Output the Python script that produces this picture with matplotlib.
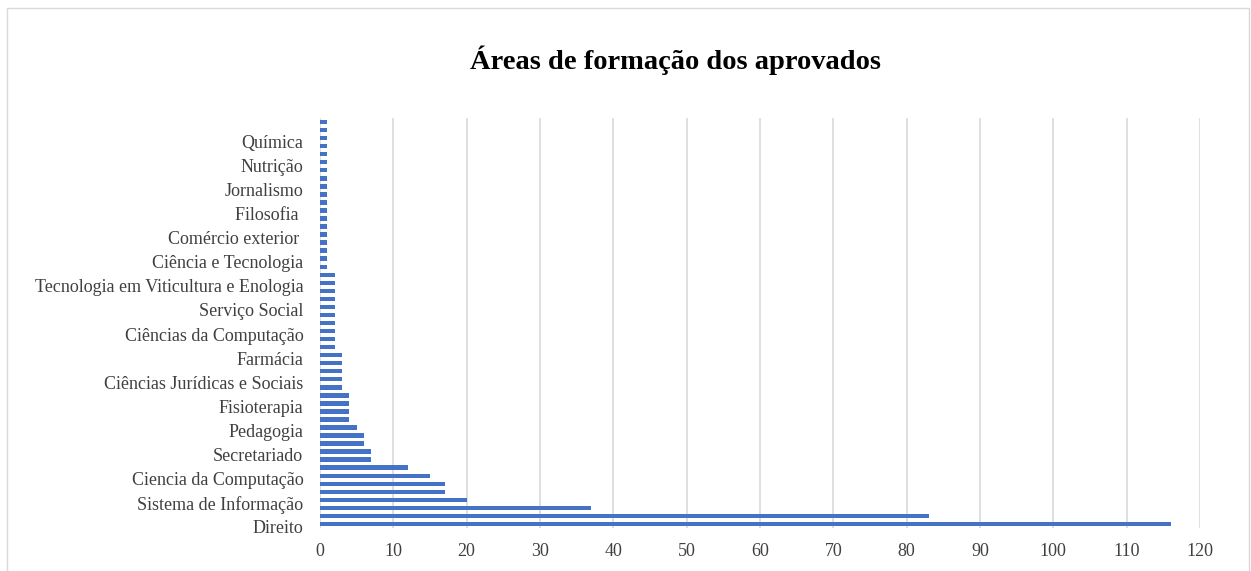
import matplotlib.pyplot as plt
import matplotlib.transforms as mtransforms
from matplotlib.patches import Rectangle

# shown labels (every third bar, from the bottom up)
labels = ['Direito', 'Sistema de Informação', 'Ciencia da Computação', 'Secretariado',
          'Pedagogia', 'Fisioterapia', 'Ciências Jurídicas e Sociais', 'Farmácia',
          'Ciências da Computação', 'Serviço Social', 'Tecnologia em Viticultura e Enologia',
          'Ciência e Tecnologia', 'Comércio exterior ', 'Filosofia ', 'Jornalismo',
          'Nutrição', 'Química']

# counts per area, bottom bar first
values = [116, 83, 37, 20, 17, 17, 15, 12, 7, 7, 6, 6, 5,
          4, 4, 4, 4,
          3, 3, 3, 3, 3,
          2, 2, 2, 2, 2, 2, 2, 2, 2, 2,
          1, 1, 1, 1, 1, 1, 1, 1, 1, 1, 1, 1, 1, 1, 1, 1, 1, 1, 1]

xticks = list(range(0, 121, 10))

plt.rcParams['font.family'] = ['Liberation Serif', 'DejaVu Serif']

fig = plt.figure(figsize=(12.51, 5.71), dpi=100)
fig.patches.append(Rectangle((7 / 1251, -0.05), 1242 / 1251, 1.05 - 8 / 571,
                             transform=fig.transFigure, fill=False,
                             edgecolor='#D9D9D9', linewidth=1))

ax = fig.add_axes([320 / 1251, (571 - 528) / 571, 880 / 1251, 410 / 571])
pos = list(range(len(values)))
ax.barh(pos, values, height=0.55, color='#4472C4', zorder=3)

ax.set_xlim(0, 120)
ax.set_ylim(-0.5, len(values) - 0.5)
ax.set_xticks(xticks)
ax.set_yticks(pos[::3])
ax.set_yticklabels(labels)
ax.tick_params(axis='both', length=0, labelsize=13, labelcolor='#404040')
ax.tick_params(axis='y', pad=12)
ax.tick_params(axis='x', pad=11)
ax.grid(axis='x', color='#D9D9D9', linewidth=1.2, zorder=0)
for s in ax.spines.values():
    s.set_visible(False)

# nudge the category labels down a little, as in the original
shift = mtransforms.ScaledTranslation(0, -3 / 100, fig.dpi_scale_trans)
for lab in ax.get_yticklabels():
    lab.set_transform(lab.get_transform() + shift)

fig.text(676 / 1251, 1 - 60 / 571, 'Áreas de formação dos aprovados',
         ha='center', va='center', fontsize=20.5, fontweight='bold', color='black')

fig.savefig('out.png', dpi=100)
